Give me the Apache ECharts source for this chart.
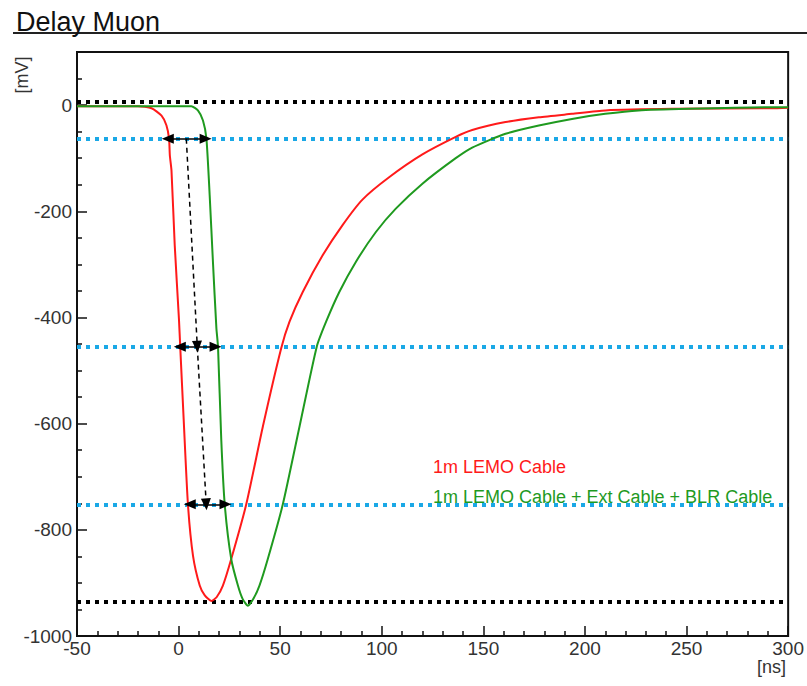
<!DOCTYPE html>
<html>
<head>
<meta charset="utf-8">
<title>Delay Muon</title>
<script src="https://cdn.jsdelivr.net/npm/echarts@6/dist/echarts.min.js"></script>
<style>
  html, body { margin: 0; padding: 0; background: #ffffff; }
  #chart { width: 807px; height: 686px; }
</style>
</head>
<body>
<div id="chart"></div>
<script>
// Pulse shapes of the muon signal, time in ns, amplitude in mV
const seriesNames = ['1m LEMO Cable', '1m LEMO Cable + Ext Cable + BLR Cable'];

const redTime = [-50, -20, -13.3, -8.4, -6.0, -4.7, -4.3, -3.5, -1.9, 0.2, 0.8, 2.5, 4.6, 7.1, 10.4, 12.8, 16.1, 18.7, 21.8, 25.9, 33.3, 41.5, 50.5, 54.6, 61.1, 70.9, 80.7, 90.5, 103.6, 120.0, 136.4, 144.5, 160.9, 177.3, 193.6, 210.0, 242.7, 291.8, 300];
const redMv   = [-2, -2, -6, -20, -38, -63, -95, -123, -264, -405, -455, -592, -752, -849, -905, -923, -934, -927, -905, -855, -752, -605, -458, -408, -352, -283, -226, -178, -136, -93, -60, -47, -32, -23, -16.5, -10, -7, -6, -5];

const greenTime = [-50, 6.3, 9.5, 12.0, 13.7, 15.3, 16.9, 18.6, 19.4, 21.0, 22.7, 25.9, 29.2, 31.5, 34.1, 36.8, 39.8, 43.9, 51.3, 59.6, 68.0, 72.6, 79.1, 87.3, 97.1, 106.9, 120.0, 136.4, 144.5, 160.9, 177.3, 193.6, 210.0, 226.4, 251.0, 291.8, 300];
const greenMv   = [-2, -2, -10, -29, -63, -170, -295, -420, -455, -630, -752, -855, -905, -930, -943, -930, -905, -855, -752, -604, -455, -408, -352, -295, -239, -195, -148, -100, -80, -54, -38.5, -26, -16.5, -10, -7, -4, -4];

// Reference levels: baseline and pulse minimum (black), threshold levels (blue)
const blackLevels = [6, -936];
const blueLevels = [-63.5, -455, -752];

// Delay arrows between the two pulses at each threshold level
const arrowLeft  = [-5.3, 0.6, 5.5];
const arrowRight = [13.3, 18.2, 23.1];
const arrowMid   = [3.8, 9.2, 13.6];

// Axis ticks
const xMajorTicks = [-50, 0, 50, 100, 150, 200, 250, 300];
const xMinorTicks = [-40, -30, -20, -10, 10, 20, 30, 40, 60, 70, 80, 90, 110, 120, 130, 140, 160, 170, 180, 190, 210, 220, 230, 240, 260, 270, 280, 290];
const yMajorTicks = [-1000, -800, -600, -400, -200, 0];
const yMinorTicks = [-950, -900, -850, -750, -700, -650, -550, -500, -450, -350, -300, -250, -150, -100, -50, 50];

const zip = (xs, ys) => xs.map((x, i) => [x, ys[i]]);

const FONT = 'Liberation Sans';
const chart = echarts.init(document.getElementById('chart'), null, { renderer: 'svg' });

const dotted = (color) => ({ color: color, width: 4, type: [4, 5], cap: 'butt' });

const levelLines = []
  .concat(blackLevels.map(v => ({ yAxis: v, lineStyle: dotted('#000000') })))
  .concat(blueLevels.map(v => ({ yAxis: v, lineStyle: dotted('#1aa8e6') })));

const arrowLines = blueLevels.map((v, i) => [
  { coord: [arrowLeft[i], v], symbol: 'triangle' },
  { coord: [arrowRight[i], v], symbol: 'triangle' }
]);
const dashLines = [
  [{ coord: [arrowMid[0], blueLevels[0]], symbol: 'none' }, { coord: [arrowMid[1], blueLevels[1]], symbol: 'triangle' }],
  [{ coord: [arrowMid[1], blueLevels[1]], symbol: 'none' }, { coord: [arrowMid[2], blueLevels[2]], symbol: 'triangle' }]
];

const axisText = { color: '#333333', fontSize: 19, fontFamily: FONT, formatter: v => String(v) };
const tickStyle = { color: '#111111', width: 1.5 };

chart.setOption({
  animation: false,
  backgroundColor: '#ffffff',
  title: {
    text: 'Delay Muon',
    left: 11, top: 3,
    textStyle: { fontFamily: FONT, fontSize: 27, fontWeight: 'normal', color: '#111111' }
  },
  grid: {
    left: 77, right: 17, top: 52, bottom: 50,
    show: true, borderColor: '#111111', borderWidth: 2, backgroundColor: 'transparent'
  },
  xAxis: [{
    type: 'value', min: -50, max: 300, position: 'bottom',
    axisLine: { show: true, onZero: false, lineStyle: { color: '#111111', width: 2 } },
    axisTick: { show: true, inside: true, length: 10, customValues: xMajorTicks, lineStyle: tickStyle },
    axisLabel: { show: true, customValues: xMajorTicks, margin: 3, ...axisText },
    splitLine: { show: false }
  }, {
    type: 'value', min: -50, max: 300, position: 'bottom',
    axisLine: { show: false, onZero: false },
    axisTick: { show: true, inside: true, length: 5, customValues: xMinorTicks, lineStyle: tickStyle },
    axisLabel: { show: false },
    splitLine: { show: false }
  }],
  yAxis: [{
    type: 'value', min: -1000, max: 100, position: 'left',
    axisLine: { show: true, onZero: false, lineStyle: { color: '#111111', width: 2 } },
    axisTick: { show: true, inside: true, length: 10, customValues: yMajorTicks, lineStyle: tickStyle },
    axisLabel: { show: true, customValues: yMajorTicks, margin: 5, ...axisText },
    splitLine: { show: false }
  }, {
    type: 'value', min: -1000, max: 100, position: 'left',
    axisLine: { show: false, onZero: false },
    axisTick: { show: true, inside: true, length: 5, customValues: yMinorTicks, lineStyle: tickStyle },
    axisLabel: { show: false },
    splitLine: { show: false }
  }],
  series: [{
    name: seriesNames[0],
    type: 'line',
    data: zip(redTime, redMv),
    showSymbol: false,
    smooth: 0.2,
    lineStyle: { color: '#ff1a1a', width: 2 },
    z: 3,
    markLine: {
      silent: true, symbol: 'none', z: 2,
      label: { show: false },
      data: levelLines
    }
  }, {
    name: seriesNames[1],
    type: 'line',
    data: zip(greenTime, greenMv),
    showSymbol: false,
    smooth: 0.2,
    lineStyle: { color: '#1f9a1f', width: 2 },
    z: 3,
    markLine: {
      silent: true, z: 4,
      symbolSize: [10, 12],
      label: { show: false },
      lineStyle: { color: '#000000', width: 1.5, type: 'solid' },
      itemStyle: { color: '#000000' },
      data: arrowLines
    }
  }, {
    name: 'delay',
    type: 'line',
    data: [],
    markLine: {
      silent: true, z: 4,
      symbolSize: [10, 12],
      label: { show: false },
      lineStyle: { color: '#000000', width: 1.5, type: [5, 4] },
      itemStyle: { color: '#000000' },
      data: dashLines
    }
  }],
  graphic: [
    { type: 'line', shape: { x1: 13, y1: 33, x2: 807, y2: 33 }, style: { stroke: '#222222', lineWidth: 2 } },
    { type: 'text', x: 22, y: 75, rotation: Math.PI / 2,
      style: { text: '[mV]', fill: '#333333', font: '18px "' + FONT + '"', align: 'center', verticalAlign: 'middle' } },
    { type: 'text', x: 786, y: 667,
      style: { text: '[ns]', fill: '#333333', font: '18px "' + FONT + '"', align: 'right', verticalAlign: 'middle' } },
    { type: 'text', x: 433, y: 467,
      style: { text: seriesNames[0], fill: '#ff1a1a', font: '18px "' + FONT + '"', align: 'left', verticalAlign: 'middle' } },
    { type: 'text', x: 433, y: 497,
      style: { text: seriesNames[1], fill: '#1f9a1f', font: '18px "' + FONT + '"', align: 'left', verticalAlign: 'middle' } }
  ]
});
</script>
</body>
</html>
